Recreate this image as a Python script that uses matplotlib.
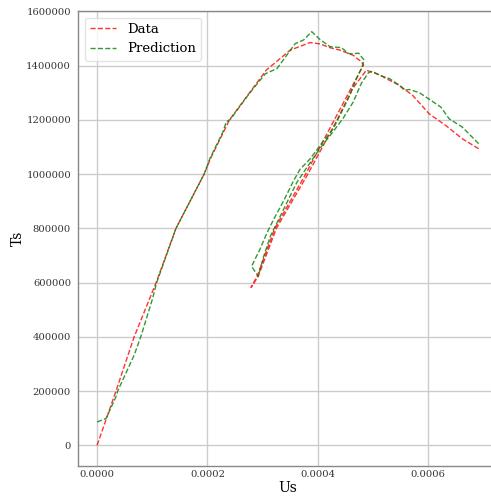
import matplotlib
matplotlib.use("Agg")
import matplotlib.pyplot as plt

# Measured response (loading, unloading, reloading)
data_load_us = [0.0, 0.0000342, 0.0000672, 0.000107, 0.000143, 0.000194, 0.000205,
                0.000240, 0.000277, 0.000307, 0.000350, 0.000386, 0.000404, 0.000422,
                0.000440, 0.000464, 0.000479, 0.000483]
data_load_ts = [0, 200000, 400000, 600000, 800000, 1000000, 1055000,
                1200000, 1302000, 1384000, 1457000, 1485000, 1480000, 1466000,
                1457000, 1438000, 1414000, 1403000]
data_unload_us = [0.000460, 0.000430, 0.000378, 0.000322, 0.000290, 0.000279]
data_unload_ts = [1315000, 1200000, 1000000, 800000, 623000, 582000]
data_reload_us = [0.000292, 0.000325, 0.000382, 0.000435, 0.000463, 0.000488,
                  0.000512, 0.000524, 0.000548, 0.000572, 0.000602, 0.000632,
                  0.000662, 0.000692]
data_reload_ts = [623000, 800000, 1000000, 1200000, 1315000, 1383000,
                  1366000, 1352000, 1327000, 1290000, 1222000, 1179000,
                  1130000, 1093000]

# Model prediction along the same path
pred_load_us = [0.0, 0.0000162, 0.0000342, 0.0000373, 0.0000673, 0.0000793, 0.000100,
                0.000108, 0.000143, 0.000194, 0.000205, 0.000228, 0.000234, 0.000242,
                0.000277, 0.000305, 0.000326, 0.000359, 0.000374, 0.000389, 0.000404,
                0.000422, 0.000443, 0.000455, 0.000462, 0.000474, 0.000484]
pred_load_ts = [86000, 99000, 179000, 200000, 333000, 401000, 537000,
                600000, 800000, 1000000, 1060000, 1155000, 1192000, 1203000,
                1300000, 1370000, 1389000, 1481000, 1494000, 1525000, 1496000,
                1470000, 1466000, 1445000, 1443000, 1446000, 1420000]
pred_unload_us = [0.000479, 0.000470, 0.000458, 0.000440, 0.000428, 0.000404,
                  0.000386, 0.000368, 0.000356, 0.000338, 0.000320, 0.000308,
                  0.000295, 0.000280]
pred_unload_ts = [1389000, 1352000, 1290000, 1216000, 1167000, 1105000,
                  1056000, 1018000, 975000, 901000, 833000, 784000,
                  722000, 660000]
pred_reload_us = [0.000292, 0.000302, 0.000314, 0.000332, 0.000350, 0.000362,
                  0.000382, 0.000404, 0.000428, 0.000446, 0.000464, 0.000479,
                  0.000492, 0.000499, 0.000512, 0.000530, 0.000548, 0.000557,
                  0.000566, 0.000584, 0.000596, 0.000623, 0.000638, 0.000662,
                  0.000692]
pred_reload_ts = [623000, 697000, 771000, 845000, 920000, 969000,
                  1030000, 1095000, 1157000, 1206000, 1265000, 1335000,
                  1374000, 1379000, 1364000, 1352000, 1327000, 1309000,
                  1312000, 1300000, 1284000, 1247000, 1204000, 1173000,
                  1111000]

data_us = data_load_us + data_unload_us + data_reload_us
data_ts = data_load_ts + data_unload_ts + data_reload_ts
pred_us = pred_load_us + pred_unload_us + pred_reload_us
pred_ts = pred_load_ts + pred_unload_ts + pred_reload_ts

x_ticks = [0.0, 0.0002, 0.0004, 0.0006]
x_tick_labels = ["0.0000", "0.0002", "0.0004", "0.0006"]
y_ticks = [0, 200000, 400000, 600000, 800000, 1000000, 1200000, 1400000, 1600000]

plt.rcParams["font.family"] = ["DejaVu Serif"]

fig = plt.figure(figsize=(4.91, 4.99), dpi=100)
ax = fig.add_axes([78 / 491, 33 / 499, 420 / 491, 455 / 499])

ax.plot(data_us, data_ts, linestyle="--", color="red", lw=1.0, alpha=0.8, label="Data")
ax.plot(pred_us, pred_ts, linestyle="--", color="green", lw=1.0, alpha=0.8, label="Prediction")

ax.set_xticks(x_ticks)
ax.set_xticklabels(x_tick_labels)
ax.set_yticks(y_ticks)
ax.set_yticklabels([str(v) for v in y_ticks])
ax.tick_params(axis="x", length=0, pad=3, labelsize=7.2, labelcolor="#333333")
ax.tick_params(axis="y", length=0, pad=5, labelsize=7.2, labelcolor="#333333")

ax.grid(True, color="#cccccc", lw=1.0)
ax.set_axisbelow(True)
for side in ["left", "bottom", "top"]:
    ax.spines[side].set_color("#888888")
    ax.spines[side].set_linewidth(1.0)
ax.spines["right"].set_visible(False)

ax.set_xlabel("Us", fontsize=10, labelpad=1)
ax.set_ylabel("Ts", fontsize=10, labelpad=1)

leg = ax.legend(loc="upper left", fontsize=9.5, frameon=True, handlelength=2.0)
leg.get_frame().set_edgecolor("#dddddd")

fig.savefig("out.png", dpi=100)
